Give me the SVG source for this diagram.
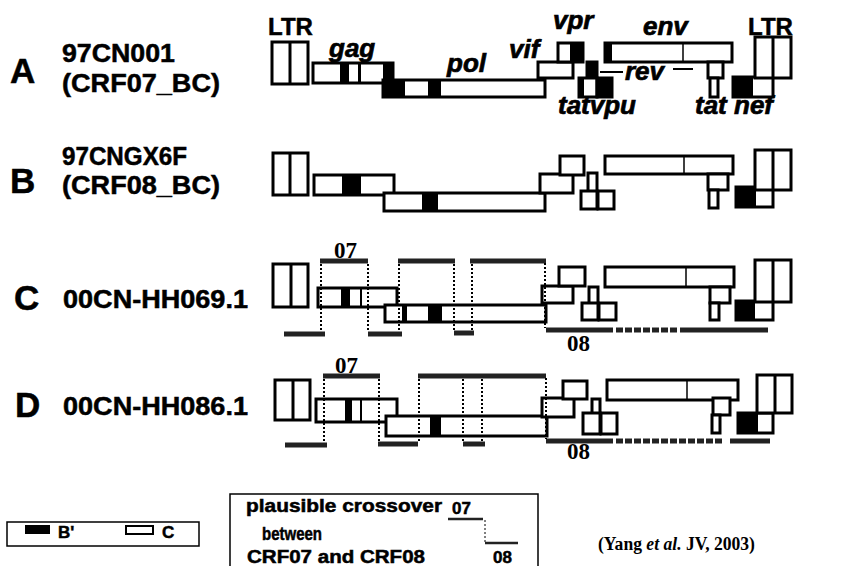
<svg xmlns="http://www.w3.org/2000/svg" width="859" height="566" viewBox="0 0 859 566">
<style>
.box{fill:#fff;stroke:#000;stroke-width:3}
.blk{fill:#000}
.div{stroke:#000;stroke-width:3}
.thin{stroke:#000;stroke-width:1.5}
.lbl{font-family:"Liberation Sans",Arial,sans-serif;font-weight:bold;fill:#000;stroke:#000;stroke-width:0.5}
.gene{font-family:"Liberation Sans",Arial,sans-serif;font-weight:bold;font-style:italic;font-size:26px;fill:#000;stroke:#000;stroke-width:0.7}
.ser{font-family:"Liberation Serif","Times New Roman",serif;font-weight:bold;fill:#000}
.bar{stroke:#222;stroke-width:5;fill:none}
.dash{stroke:#222;stroke-width:5;stroke-dasharray:7 2;fill:none}
.dot{stroke:#000;stroke-width:2;stroke-dasharray:2 2;fill:none}
.leg{fill:none;stroke:#000;stroke-width:1.5}
</style>
<rect width="859" height="566" fill="#fff"/>

<!-- Row labels -->
<g id="labels">
<text class="lbl" x="10" y="83" font-size="35">A</text>
<text class="lbl" x="62" y="62" font-size="25" textLength="113" lengthAdjust="spacingAndGlyphs">97CN001</text>
<text class="lbl" x="62" y="92" font-size="25" textLength="158" lengthAdjust="spacingAndGlyphs">(CRF07_BC)</text>
<text class="lbl" x="10" y="193" font-size="35">B</text>
<text class="lbl" x="62" y="165" font-size="25" textLength="125" lengthAdjust="spacingAndGlyphs">97CNGX6F</text>
<text class="lbl" x="62" y="194" font-size="25" textLength="158" lengthAdjust="spacingAndGlyphs">(CRF08_BC)</text>
<text class="lbl" x="14" y="310" font-size="35">C</text>
<text class="lbl" x="63" y="308" font-size="25" textLength="185" lengthAdjust="spacingAndGlyphs">00CN-HH069.1</text>
<text class="lbl" x="15" y="417" font-size="35">D</text>
<text class="lbl" x="63" y="415" font-size="25" textLength="185" lengthAdjust="spacingAndGlyphs">00CN-HH086.1</text>
</g>

<!-- Gene labels -->
<g id="gene-labels">
<text class="lbl" x="268" y="35" font-size="24">LTR</text>
<text class="lbl" x="748" y="35" font-size="24">LTR</text>
<text class="gene" x="329" y="57">gag</text>
<text class="gene" x="447" y="72">pol</text>
<text class="gene" x="509" y="58" font-size="23">vif</text>
<text class="gene" x="553" y="29">vpr</text>
<text class="gene" x="643" y="35" font-size="27">env</text>
<text class="gene" x="625" y="80">rev</text>
<text class="gene" x="558" y="114">tatvpu</text>
<text class="gene" x="695" y="114">tat nef</text>
</g>

<!-- Row A -->
<g id="A-ltr5"><rect class="box" x="272" y="42" width="36" height="42"/><line class="div" x1="290" y1="42" x2="290" y2="84"/></g>
<g id="A-gag"><rect class="box" x="313" y="63" width="80" height="20"/><rect class="blk" x="340" y="63" width="9" height="20"/><rect class="blk" x="358" y="63" width="3" height="20"/><rect class="blk" x="383" y="63" width="10" height="20"/></g>
<g id="A-pol"><rect class="box" x="383" y="80" width="162" height="17"/><rect class="blk" x="383" y="80" width="22" height="17"/><rect class="blk" x="428" y="80" width="13" height="17"/></g>
<g id="A-vif"><rect class="box" x="538" y="62" width="35" height="16"/></g>
<g id="A-vpr"><rect class="box" x="558" y="43" width="25" height="19"/><rect class="blk" x="570" y="43" width="13" height="19"/></g>
<g id="A-tat1"><rect class="box blk" x="587" y="62" width="10" height="18"/><rect class="box" x="579" y="78" width="18" height="19"/><rect class="blk" x="579" y="78" width="5" height="19"/></g>
<g id="A-vpu"><rect class="box blk" x="597" y="78" width="15" height="19"/></g>
<g id="A-env"><rect class="box" x="605" y="43" width="127" height="19"/><rect class="blk" x="605" y="43" width="7" height="19"/><line class="thin" x1="683" y1="43" x2="683" y2="62"/></g>
<g id="A-rev"><line x1="600" y1="72" x2="623" y2="72" stroke="#000" stroke-width="2"/><line x1="673" y1="69" x2="693" y2="69" stroke="#000" stroke-width="2"/></g>
<g id="A-tat2"><rect class="box" x="708" y="62" width="15" height="16"/><rect class="box" x="710" y="78" width="8" height="19"/></g>
<g id="A-nef"><rect class="box" x="733" y="77" width="40" height="20"/><rect class="blk" x="733" y="77" width="20" height="20"/></g>
<g id="A-ltr3"><rect class="box" x="755" y="37" width="36" height="41"/><line class="div" x1="773" y1="37" x2="773" y2="78"/></g>

<!-- Row B -->
<g id="B-ltr5"><rect class="box" x="273" y="153" width="35" height="42"/><line class="div" x1="290" y1="153" x2="290" y2="195"/></g>
<g id="B-gag"><rect class="box" x="314" y="175" width="80" height="20"/><rect class="blk" x="342" y="175" width="19" height="20"/></g>
<g id="B-pol"><rect class="box" x="384" y="193" width="161" height="18"/><rect class="blk" x="422" y="193" width="16" height="18"/></g>
<g id="B-vif"><rect class="box" x="540" y="174" width="33" height="19"/></g>
<g id="B-vpr"><rect class="box" x="560" y="156" width="24" height="19"/></g>
<g id="B-tat1"><rect class="box" x="588" y="173" width="9" height="19"/><rect class="box" x="581" y="191" width="16" height="18"/></g>
<g id="B-vpu"><rect class="box" x="598" y="191" width="16" height="18"/></g>
<g id="B-env"><rect class="box" x="605" y="156" width="128" height="18"/><line class="thin" x1="684" y1="156" x2="684" y2="174"/></g>
<g id="B-tat2"><rect class="box" x="708" y="174" width="20" height="16"/><rect class="box" x="709" y="190" width="9" height="18"/></g>
<g id="B-nef"><rect class="box" x="736" y="187" width="37" height="20"/><rect class="blk" x="736" y="187" width="20" height="20"/></g>
<g id="B-ltr3"><rect class="box" x="755" y="150" width="36" height="40"/><line class="div" x1="773" y1="150" x2="773" y2="190"/></g>

<!-- Row C -->
<g id="C-ltr5"><rect class="box" x="273" y="264" width="35" height="43"/><line class="div" x1="291" y1="264" x2="291" y2="307"/></g>
<g id="C-gag"><rect class="box" x="318" y="288" width="79" height="19"/><rect class="blk" x="341" y="288" width="9" height="19"/><rect class="blk" x="360" y="288" width="2" height="19"/></g>
<g id="C-pol"><rect class="box" x="385" y="305" width="161" height="17"/><rect class="blk" x="402" y="305" width="5" height="17"/><rect class="blk" x="428" y="305" width="14" height="17"/></g>
<g id="C-vif"><rect class="box" x="542" y="286" width="31" height="17"/></g>
<g id="C-vpr"><rect class="box" x="559" y="267" width="26" height="19"/></g>
<g id="C-tat1"><rect class="box" x="589" y="287" width="9" height="18"/><rect class="box" x="582" y="303" width="16" height="17"/></g>
<g id="C-vpu"><rect class="box" x="599" y="303" width="17" height="17"/></g>
<g id="C-env"><rect class="box" x="605" y="267" width="129" height="20"/><line class="thin" x1="686" y1="267" x2="686" y2="287"/></g>
<g id="C-tat2"><rect class="box" x="710" y="287" width="20" height="16"/><rect class="box" x="710" y="303" width="9" height="17"/></g>
<g id="C-nef"><rect class="box" x="736" y="301" width="37" height="19"/><rect class="blk" x="736" y="301" width="19" height="19"/></g>
<g id="C-ltr3"><rect class="box" x="755" y="260" width="36" height="42"/><line class="div" x1="773" y1="260" x2="773" y2="302"/></g>

<!-- Row D -->
<g id="D-ltr5"><rect class="box" x="275" y="380" width="35" height="40"/><line class="div" x1="293" y1="380" x2="293" y2="420"/></g>
<g id="D-gag"><rect class="box" x="316" y="399" width="81" height="23"/><rect class="blk" x="345" y="399" width="7" height="23"/><rect class="blk" x="360" y="399" width="2" height="23"/></g>
<g id="D-pol"><rect class="box" x="386" y="416" width="161" height="20"/><rect class="blk" x="430" y="416" width="11" height="20"/></g>
<g id="D-vif"><rect class="box" x="542" y="398" width="32" height="19"/></g>
<g id="D-vpr"><rect class="box" x="563" y="381" width="24" height="18"/></g>
<g id="D-tat1"><rect class="box" x="592" y="399" width="8" height="18"/><rect class="box" x="583" y="413" width="17" height="21"/></g>
<g id="D-vpu"><rect class="box" x="601" y="413" width="16" height="21"/></g>
<g id="D-env"><rect class="box" x="607" y="380" width="131" height="20"/><line class="thin" x1="687" y1="380" x2="687" y2="400"/></g>
<g id="D-tat2"><rect class="box" x="713" y="398" width="17" height="17"/><rect class="box" x="712" y="415" width="8" height="18"/></g>
<g id="D-nef"><rect class="box" x="738" y="413" width="35" height="20"/><rect class="blk" x="738" y="413" width="20" height="20"/></g>
<g id="D-ltr3"><rect class="box" x="757" y="375" width="35" height="38"/><line class="div" x1="775" y1="375" x2="775" y2="413"/></g>

<!-- Crossover connectors -->
<g id="connectors">
<!-- Row C -->
<text class="ser" x="334" y="258" font-size="23">07</text>
<line class="bar" x1="320" y1="261" x2="368" y2="261"/>
<line class="bar" x1="398" y1="261" x2="455" y2="261"/>
<line class="bar" x1="470" y1="261" x2="546" y2="261"/>
<line class="bar" x1="284" y1="334" x2="325" y2="334"/>
<line class="bar" x1="368" y1="334" x2="402" y2="334"/>
<line class="bar" x1="454" y1="333" x2="474" y2="333"/>
<line class="bar" x1="546" y1="330" x2="613" y2="330"/>
<line class="dash" x1="616" y1="330" x2="677" y2="330"/>
<line class="bar" x1="680" y1="330" x2="768" y2="330"/>
<text class="ser" x="567" y="351" font-size="23">08</text>
<line class="dot" x1="321" y1="264" x2="321" y2="332"/>
<line class="dot" x1="368" y1="264" x2="368" y2="332"/>
<line class="dot" x1="399" y1="264" x2="399" y2="332"/>
<line class="dot" x1="454" y1="264" x2="454" y2="331"/>
<line class="dot" x1="472" y1="264" x2="472" y2="331"/>
<line class="dot" x1="545" y1="263" x2="545" y2="328"/>
<!-- Row D -->
<text class="ser" x="335" y="373" font-size="23">07</text>
<line class="bar" x1="323" y1="376" x2="380" y2="376"/>
<line class="bar" x1="418" y1="376" x2="546" y2="376"/>
<line class="bar" x1="285" y1="445" x2="327" y2="445"/>
<line class="bar" x1="378" y1="444" x2="418" y2="444"/>
<line class="bar" x1="463" y1="444" x2="485" y2="444"/>
<line class="bar" x1="546" y1="441" x2="613" y2="441"/>
<line class="dash" x1="616" y1="441" x2="723" y2="441"/>
<line class="bar" x1="730" y1="441" x2="770" y2="441"/>
<text class="ser" x="567" y="459" font-size="23">08</text>
<line class="dot" x1="324" y1="379" x2="324" y2="443"/>
<line class="dot" x1="379" y1="379" x2="379" y2="442"/>
<line class="dot" x1="419" y1="379" x2="419" y2="442"/>
<line class="dot" x1="463" y1="379" x2="463" y2="442"/>
<line class="dot" x1="482" y1="379" x2="482" y2="442"/>
<line class="dot" x1="546" y1="378" x2="546" y2="439"/>
</g>

<!-- Legend -->
<g id="legend-key">
<rect class="leg" x="7" y="522" width="192" height="24"/>
<rect class="blk" x="25" y="525" width="25" height="9"/>
<text class="lbl" x="58" y="538" font-size="17">B'</text>
<rect x="126" y="526" width="27" height="8" fill="#fff" stroke="#000" stroke-width="2"/>
<text class="lbl" x="162" y="538" font-size="17">C</text>
</g>
<g id="legend-crossover">
<path class="leg" d="M230,566 V494 H538 V566"/>
<text class="lbl" x="246" y="512" font-size="18" textLength="196" lengthAdjust="spacingAndGlyphs">plausible crossover</text>
<text class="lbl" x="262" y="540" font-size="18" textLength="60" lengthAdjust="spacingAndGlyphs">between</text>
<text class="lbl" x="247" y="563" font-size="18" textLength="178" lengthAdjust="spacingAndGlyphs">CRF07 and CRF08</text>
<text class="lbl" x="452" y="514" font-size="17">07</text>
<line x1="448" y1="519" x2="483" y2="519" stroke="#222" stroke-width="2.5"/>
<line x1="485" y1="520" x2="485" y2="542" stroke="#000" stroke-width="1" stroke-dasharray="2 2"/>
<line x1="485" y1="543" x2="518" y2="543" stroke="#222" stroke-width="2.5"/>
<text class="lbl" x="493" y="563" font-size="17">08</text>
</g>
<text class="ser" x="598" y="550" font-size="18" textLength="157" lengthAdjust="spacingAndGlyphs">(Yang <tspan font-style="italic">et al.</tspan> JV, 2003)</text>
</svg>
